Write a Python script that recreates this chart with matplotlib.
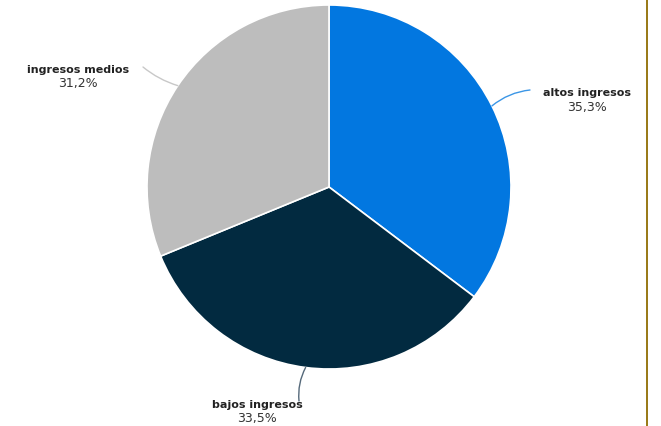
import numpy as np
import matplotlib.pyplot as plt
from matplotlib.patches import Rectangle

labels = ["altos ingresos", "bajos ingresos", "ingresos medios"]
shares = [35.3, 33.5, 31.2]
pct_text = ["35,3%", "33,5%", "31,2%"]
colors = ["#0277e0", "#022a40", "#bdbdbd"]
line_colors = ["#3b96e6", "#55697a", "#c8c8c8"]

W, H = 661, 427
fig = plt.figure(figsize=(W / 100, H / 100), dpi=100)
ax = fig.add_axes([0, 0, 1, 1])

cx, cy, r = 329, H - 188, 182
wedges, _ = ax.pie(shares, colors=colors, startangle=90, counterclock=False,
                   center=(cx, cy), radius=r, frame=True,
                   wedgeprops=dict(edgecolor="white", linewidth=1.2))
ax.set_xlim(0, W)
ax.set_ylim(0, H)
ax.axis("off")

# label positions (text centre, line end) in pixels from top-left
label_pos = [(587, 93), (257, 405), (78, 70)]
line_end = [(530, 91), (299, 402), (143, 68)]
rads = [0.15, -0.15, 0.1]

start = 0.0
for i in range(len(shares)):
    mid = start + shares[i] / 2
    ang = np.deg2rad(90 - mid / 100 * 360)
    start += shares[i]
    ex, ey = cx + r * np.cos(ang), cy + r * np.sin(ang)
    lx, ly = line_end[i]
    ax.annotate("", xy=(ex, ey), xytext=(lx, H - ly),
                arrowprops=dict(arrowstyle="-", color=line_colors[i], lw=1,
                                shrinkA=0, shrinkB=0,
                                connectionstyle="arc3,rad=%s" % rads[i]))
    tx, ty = label_pos[i]
    ax.text(tx, H - ty, labels[i], ha="center", va="center", fontsize=8,
            fontweight="bold", color="#222222", family="DejaVu Sans")
    ax.text(tx, H - ty - 14, pct_text[i], ha="center", va="center", fontsize=9,
            color="#333333", family="DejaVu Sans")

ax.add_patch(Rectangle((646, 0), 2, H, color="#9a7b1a", lw=0))

fig.savefig("out.png", dpi=100)
